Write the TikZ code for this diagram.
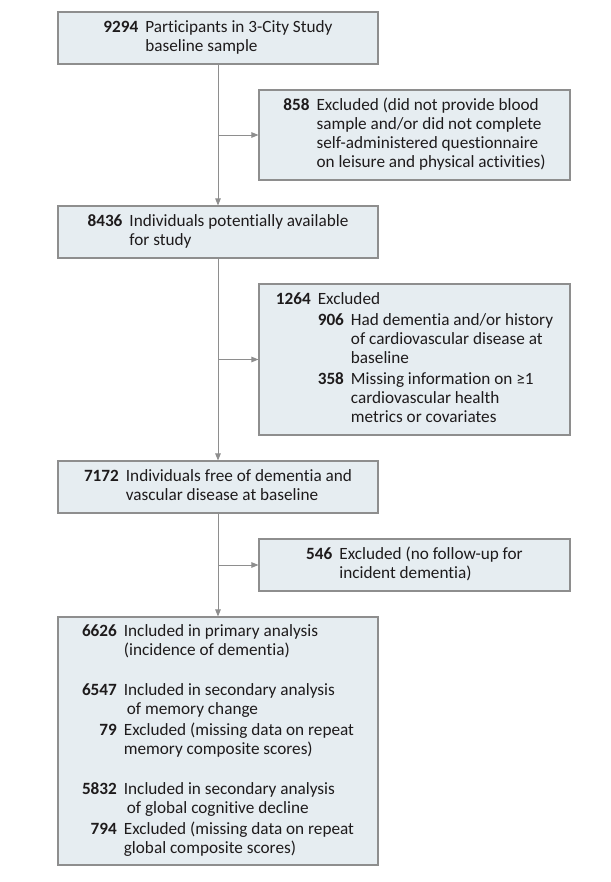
\documentclass[tikz,border=0pt]{standalone}
\usepackage{fontspec}
\setmainfont{Carlito}[RawFeature=-liga]
\usepackage{tikz}
\usetikzlibrary{arrows.meta}

\definecolor{boxfill}{HTML}{E6EDF1}
\definecolor{boxline}{HTML}{8E8E8E}
\definecolor{txt}{HTML}{1E1B1C}

\begin{document}
\begin{tikzpicture}[x=1pt, y=-1pt,
    box/.style={draw=boxline, fill=boxfill, line width=1.1pt, inner sep=0pt,
        text=txt, font=\fontsize{17.2}{19}\selectfont},
    lbox/.style={box, minimum width=320pt},
    rbox/.style={box, minimum width=311pt},
    arr/.style={draw=boxline, line width=0.9pt, -{Triangle[length=7pt,width=5.5pt]}}]

    \useasboundingbox (0,0) rectangle (610,882);

    % Main column
    \node[lbox, minimum height=52pt] (start) at (218,38) {%
        \begin{tabular}{@{}r@{\hspace{7pt}}l@{}}
        \textbf{9294} & Participants in 3-City Study\\
         & baseline sample
        \end{tabular}};
    \node[lbox, minimum height=52pt] (avail) at (218,232) {%
        \begin{tabular}{@{}r@{\hspace{7pt}}l@{}}
        \textbf{8436} & Individuals potentially available\\
         & for study
        \end{tabular}};
    \node[lbox, minimum height=52pt] (free) at (218,487) {%
        \begin{tabular}{@{}r@{\hspace{7pt}}l@{}}
        \textbf{7172} & Individuals free of dementia and\\
         & vascular disease at baseline
        \end{tabular}};
    \node[lbox, minimum height=248pt] (incl) at (218,741) {%
        \begin{tabular}{@{}r@{\hspace{7pt}}l@{}}
        \textbf{6626} & Included in primary analysis\\
         & (incidence of dementia)\\[21pt]
        \textbf{6547} & Included in secondary analysis\\
         & \hspace{3pt}of memory change\\[2pt]
        \textbf{79} & Excluded (missing data on repeat\\
         & memory composite scores)\\[21pt]
        \textbf{5832} & Included in secondary analysis\\
         & \hspace{3pt}of global cognitive decline\\[2pt]
        \textbf{794} & Excluded (missing data on repeat\\
         & global composite scores)
        \end{tabular}};

    % Exclusion boxes
    \node[rbox, minimum height=90pt] (excl1) at (414.5,135) {%
        \begin{tabular}{@{}r@{\hspace{7pt}}l@{}}
        \textbf{858} & Excluded (did not provide blood\\
         & sample and/or did not complete\\
         & self-administered questionnaire\\
         & on leisure and physical activities)
        \end{tabular}};
    \node[rbox, minimum height=151pt] (excl2) at (414.5,359.5) {%
        \begin{tabular}{@{}r@{\hspace{7pt}}r@{\hspace{7pt}}l@{}}
        \textbf{1264} & \multicolumn{2}{@{}l@{}}{Excluded}\\[2pt]
         & \textbf{906} & Had dementia and/or history\\
         & & of cardiovascular disease at\\
         & & baseline\\[2pt]
         & \textbf{358} & Missing information on ≥1\\
         & & cardiovascular health\\
         & & metrics or covariates
        \end{tabular}};
    \node[rbox, minimum height=52pt] (excl3) at (414.5,565) {%
        \begin{tabular}{@{}r@{\hspace{7pt}}l@{}}
        \textbf{546} & Excluded (no follow-up for\\
         & incident dementia)
        \end{tabular}};

    % Flow
    \draw[arr] (start) -- (avail);
    \draw[arr] (avail) -- (free);
    \draw[arr] (free) -- (incl);

    % Side branches
    \draw[arr] (start.south |- excl1.west) -- (excl1.west);
    \draw[arr] (avail.south |- excl2.west) -- (excl2.west);
    \draw[arr] (free.south |- excl3.west) -- (excl3.west);

\end{tikzpicture}
\end{document}
